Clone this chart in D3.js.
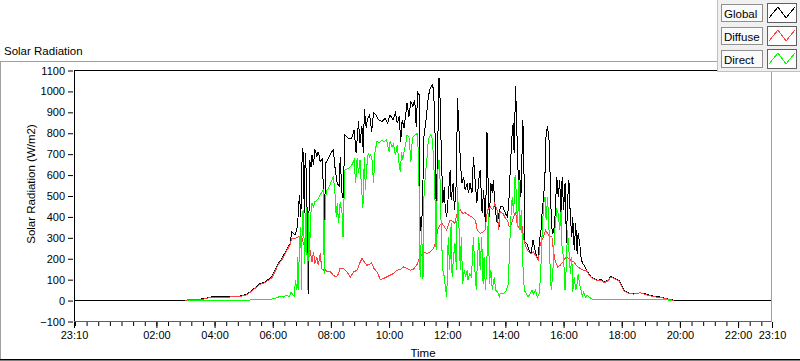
<!DOCTYPE html>
<html>
<head>
<meta charset="utf-8">
<script src="https://cdn.jsdelivr.net/npm/d3@7"></script>
<style>
  html, body { margin: 0; padding: 0; background: #fff; }
  svg { display: block; font-family: "Liberation Sans", Arial, sans-serif; }
</style>
</head>
<body>
<div id="chart"></div>
<script>
// axis values
const yTicks = [-100, 0, 100, 200, 300, 400, 500, 600, 700, 800, 900, 1000, 1100];
const xTickLabels = ["23:10", "02:00", "04:00", "06:00", "08:00", "10:00", "12:00",
  "14:00", "16:00", "18:00", "20:00", "22:00", "23:10"];
const seriesNames = ["Global", "Diffuse", "Direct"];

// measurements, [time, W/m2]; the night before 03:00 and after 19:47 is 0
const globalData = [
  ["03:00",0],["03:05",5],["03:37",8],["03:51",17],["04:49",20],["05:07",30],["05:17",49],["05:34",81],
  ["05:44",89],["05:58",113],["06:05",145],["06:12",180],["06:19",201],["06:28",241],["06:36",273],
  ["06:39",329],["06:46",313],["06:51",353],["06:55",505],["06:58",400],["07:01",728],["07:03",705],
  ["07:05",418],["07:07",704],["07:10",576],["07:13",30],["07:16",672],["07:19",640],["07:21",696],
  ["07:24",648],["07:27",723],["07:31",690],["07:34",712],["07:38",664],["07:43",680],["07:46",273],
  ["07:49",656],["07:55",680],["08:02",712],["08:05",720],["08:09",624],["08:13",560],["08:18",544],
  ["08:19",688],["08:23",513],["08:25",490],["08:29",792],["08:36",776],["08:43",776],["08:48",816],
  ["08:52",704],["08:57",856],["09:00",752],["09:04",832],["09:07",704],["09:09",915],["09:13",824],
  ["09:15",864],["09:20",888],["09:24",808],["09:28",899],["09:33",888],["09:38",864],["09:45",856],
  ["09:52",872],["09:57",848],["10:02",888],["10:08",864],["10:13",896],["10:17",848],["10:21",880],
  ["10:24",760],["10:27",864],["10:31",824],["10:37",944],["10:41",880],["10:45",952],["10:49",928],
  ["10:53",960],["10:56",832],["10:59",995],["11:02",984],["11:04",353],["11:07",321],["11:10",576],
  ["11:12",784],["11:17",880],["11:21",976],["11:25",1016],["11:29",1032],["11:32",1008],["11:35",784],
  ["11:37",465],["11:40",688],["11:43",1064],["11:45",976],["11:48",688],["11:51",465],["11:54",544],
  ["11:56",433],["11:59",400],["12:03",528],["12:06",624],["12:08",481],["12:12",560],["12:15",433],
  ["12:19",576],["12:21",968],["12:24",829],["12:27",672],["12:30",560],["12:34",592],["12:37",528],
  ["12:41",560],["12:44",513],["12:47",560],["12:51",513],["12:54",688],["12:58",560],["13:01",465],
  ["13:05",576],["13:08",624],["13:12",417],["13:15",528],["13:19",353],["13:22",808],["13:25",497],
  ["13:27",400],["13:30",560],["13:33",513],["13:35",576],["13:39",433],["13:43",369],["13:46",417],
  ["13:48",353],["13:49",448],["13:55",448],["14:00",417],["14:04",400],["14:07",465],["14:10",624],
  ["14:13",768],["14:16",848],["14:18",704],["14:21",1024],["14:24",784],["14:27",544],["14:29",624],
  ["14:32",497],["14:35",768],["14:36",864],["14:38",688],["14:40",281],["14:44",273],["14:49",241],
  ["14:53",225],["14:57",289],["15:01",241],["15:05",209],["15:08",193],["15:10",289],["15:13",321],
  ["15:16",433],["15:19",497],["15:22",624],["15:24",800],["15:27",832],["15:30",768],["15:33",544],
  ["15:35",353],["15:38",321],["15:41",353],["15:43",433],["15:46",592],["15:49",497],["15:52",576],
  ["15:55",385],["15:57",592],["16:00",433],["16:03",560],["16:06",273],["16:08",465],["16:11",576],
  ["16:14",400],["16:17",305],["16:19",400],["16:22",241],["16:25",369],["16:28",225],["16:30",321],
  ["16:33",281],["16:36",209],["16:39",177],["16:43",169],["16:47",145],["16:52",129],["16:57",113],
  ["17:03",105],["17:10",97],["17:17",101],["17:24",89],["17:31",97],["17:38",116],["17:47",105],
  ["17:54",97],["17:58",81],["18:05",49],["18:14",37],["18:24",33],["18:38",37],["18:52",30],
  ["19:06",20],["19:20",17],["19:33",9],["19:44",4],["19:47",0]
];

const diffuseData = [
  ["03:00",0],["03:05",4],["03:37",7],["03:51",15],["04:49",18],["05:07",28],["05:17",46],["05:34",78],
  ["05:44",86],["05:58",108],["06:05",140],["06:12",175],["06:19",196],["06:28",235],["06:36",268],
  ["06:39",297],["06:46",297],["06:53",305],["07:00",305],["07:03",273],["07:07",257],["07:10",233],
  ["07:14",209],["07:17",241],["07:21",185],["07:24",233],["07:27",177],["07:31",209],["07:34",169],
  ["07:38",225],["07:41",153],["07:45",145],["07:48",149],["07:52",137],["07:58",141],["08:05",121],
  ["08:11",113],["08:16",129],["08:19",155],["08:26",153],["08:33",137],["08:40",113],["08:47",137],
  ["08:54",145],["08:59",177],["09:04",201],["09:09",185],["09:14",169],["09:20",173],["09:24",181],
  ["09:29",153],["09:35",137],["09:42",101],["09:48",105],["09:55",113],["10:02",121],["10:09",129],
  ["10:16",145],["10:23",149],["10:30",161],["10:37",153],["10:44",145],["10:50",149],["10:57",169],
  ["11:04",209],["11:11",233],["11:18",225],["11:25",233],["11:32",249],["11:37",289],["11:40",337],
  ["11:45",361],["11:49",369],["11:54",353],["11:59",337],["12:06",385],["12:12",377],["12:16",369],
  ["12:21",425],["12:27",433],["12:32",417],["12:37",420],["12:44",409],["12:51",400],["12:58",385],
  ["13:02",337],["13:08",321],["13:14",329],["13:18",337],["13:23",433],["13:29",448],["13:34",433],
  ["13:38",465],["13:43",433],["13:46",337],["13:49",425],["13:55",417],["14:00",393],["14:04",385],
  ["14:08",353],["14:13",369],["14:17",401],["14:21",425],["14:24",369],["14:27",353],["14:30",337],
  ["14:35",353],["14:37",305],["14:42",257],["14:48",233],["14:53",225],["14:58",233],["15:04",209],
  ["15:08",193],["15:12",273],["15:17",297],["15:23",337],["15:27",321],["15:31",305],["15:36",305],
  ["15:39",241],["15:43",185],["15:48",161],["15:53",169],["15:59",185],["16:03",201],["16:07",209],
  ["16:11",201],["16:15",193],["16:21",185],["16:28",165],["16:34",153],["16:41",145],["16:47",145],
  ["16:52",125],["16:57",110],["17:03",102],["17:10",94],["17:17",98],["17:24",86],["17:31",94],
  ["17:38",113],["17:47",102],["17:54",94],["17:58",78],["18:05",46],["18:14",34],["18:24",31],
  ["18:38",37],["18:52",27],["19:06",18],["19:20",15],["19:33",8],["19:44",3],["19:47",0]
];

const directData = [
  ["03:03",0],["05:24",3],["05:27",5],["05:58",7],["06:08",13],["06:15",20],["06:22",17],["06:28",25],
  ["06:34",20],["06:38",40],["06:41",30],["06:44",20],["06:47",97],["06:50",49],["06:51",209],
  ["06:53",49],["06:55",273],["06:58",353],["06:59",49],["07:01",417],["07:03",433],["07:06",177],
  ["07:09",448],["07:12",49],["07:14",417],["07:16",209],["07:18",401],["07:21",465],["07:24",448],
  ["07:27",473],["07:32",481],["07:38",505],["07:42",521],["07:45",529],["07:46",129],["07:47",305],
  ["07:49",497],["07:52",529],["07:55",537],["07:58",553],["08:02",576],["08:05",595],["08:08",529],
  ["08:11",401],["08:13",465],["08:16",369],["08:19",470],["08:23",417],["08:25",305],["08:27",481],
  ["08:29",624],["08:36",632],["08:43",648],["08:48",672],["08:51",560],["08:54",680],["08:57",608],
  ["09:00",672],["09:03",544],["09:06",441],["09:09",688],["09:11",529],["09:14",640],["09:17",704],
  ["09:20",688],["09:22",696],["09:25",672],["09:28",560],["09:31",712],["09:35",760],["09:40",755],
  ["09:45",765],["09:50",760],["09:55",768],["10:00",712],["10:02",760],["10:06",736],["10:09",749],
  ["10:13",696],["10:17",744],["10:20",664],["10:23",616],["10:26",712],["10:28",672],["10:31",712],
  ["10:34",744],["10:37",792],["10:41",784],["10:45",664],["10:48",776],["10:50",784],["10:54",792],
  ["10:59",800],["11:02",529],["11:04",113],["11:07",353],["11:10",105],["11:12",497],["11:15",608],
  ["11:18",672],["11:21",768],["11:23",784],["11:26",792],["11:29",776],["11:32",672],["11:35",465],
  ["11:37",241],["11:40",608],["11:43",672],["11:45",592],["11:48",305],["11:51",145],["11:54",113],
  ["11:56",65],["11:59",17],["12:02",305],["12:05",145],["12:08",369],["12:10",113],["12:13",209],
  ["12:16",273],["12:19",145],["12:21",544],["12:24",369],["12:27",145],["12:29",305],["12:32",81],
  ["12:35",145],["12:38",113],["12:41",145],["12:43",97],["12:46",129],["12:50",113],["12:54",305],
  ["12:57",145],["13:00",49],["13:02",177],["13:05",305],["13:08",145],["13:11",305],["13:14",81],
  ["13:16",209],["13:19",49],["13:22",209],["13:25",417],["13:27",81],["13:30",145],["13:33",49],
  ["13:37",113],["13:40",49],["13:44",41],["13:48",17],["13:49",33],["13:56",33],["14:02",49],
  ["14:06",81],["14:08",209],["14:11",385],["14:14",497],["14:17",417],["14:20",600],["14:22",529],
  ["14:25",353],["14:28",576],["14:30",337],["14:33",433],["14:36",177],["14:39",49],["14:43",33],
  ["14:47",17],["14:51",33],["14:55",49],["14:58",33],["15:02",49],["15:06",17],["15:10",33],
  ["15:13",145],["15:16",337],["15:19",465],["15:22",497],["15:24",385],["15:27",497],["15:30",337],
  ["15:33",97],["15:35",49],["15:38",145],["15:41",305],["15:43",369],["15:46",433],["15:49",417],
  ["15:52",337],["15:55",433],["15:57",241],["16:00",209],["16:03",49],["16:06",177],["16:08",337],
  ["16:11",241],["16:14",129],["16:17",209],["16:19",41],["16:22",113],["16:25",49],["16:28",81],
  ["16:30",129],["16:33",81],["16:36",49],["16:39",17],["16:41",41],["16:45",17],["16:49",25],
  ["16:55",13],["17:02",4],["17:16",4],["17:36",7],["17:57",4],["18:24",4],["18:59",4],["19:33",4],
  ["19:44",0]
];

const W = 800, H = 361;
const svg = d3.select("#chart").append("svg").attr("width", W).attr("height", H);

const start = new Date(2000, 0, 1, 23, 10), end = new Date(2000, 0, 2, 23, 10);
const parse = s => { const [h, m] = s.split(":").map(Number); return new Date(2000, 0, 2, h, m); };

const plot = { left: 74, top: 70, right: 772, bottom: 322 };
const x = d3.scaleTime().domain([start, end]).range([plot.left, plot.right]);
const y = d3.scaleLinear().domain([-100, 1100]).range([plot.bottom - 0.5, plot.top + 0.5]);

// outer panel
svg.append("text").attr("x", 4).attr("y", 55).attr("font-size", 11.5).attr("fill", "#000").text("Solar Radiation");
svg.append("path").attr("d", "M0,61.5H717M0.5,61.5V360").attr("stroke", "#a0a0a0").attr("fill", "none");
svg.append("path").attr("d", "M0,359.5H800").attr("stroke", "#000").attr("fill", "none");
svg.append("path").attr("d", "M0,360.5H800").attr("stroke", "#808080").attr("fill", "none");

// lines
svg.append("clipPath").attr("id", "clip").append("rect")
  .attr("x", plot.left + 1).attr("y", plot.top + 1)
  .attr("width", plot.right - plot.left - 1).attr("height", plot.bottom - plot.top - 1);

const line = d3.line().x(d => x(d[0])).y(d => y(d[1]));
const toPts = arr => arr.map(d => [parse(d[0]), d[1]]);
const series = [
  { name: seriesNames[0], color: "#000000", pts: [[start, 0], ...toPts(globalData), [end, 0]] },
  { name: seriesNames[1], color: "#ff4040", pts: toPts(diffuseData) },
  { name: seriesNames[2], color: "#00ff00", pts: toPts(directData) }
];
const g = svg.append("g").attr("clip-path", "url(#clip)");
series.forEach(s => {
  g.append("path").datum(s.pts).attr("d", line)
    .attr("fill", "none").attr("stroke", s.color).attr("stroke-width", 1)
    .attr("shape-rendering", "crispEdges");
});

// plot frame
svg.append("path").attr("d", `M${plot.left},${plot.top + 0.5}H${plot.right}M${plot.left + 0.5},${plot.top}V${plot.bottom}`)
  .attr("stroke", "#000").attr("fill", "none");
svg.append("path").attr("d", `M${plot.left},${plot.bottom - 0.5}H${plot.right}`).attr("stroke", "#606060").attr("fill", "none");
svg.append("path").attr("d", `M${plot.right - 0.5},${plot.top}V${plot.bottom}`).attr("stroke", "#a0a0a0").attr("fill", "none");

// y axis
const yAxis = svg.append("g").attr("transform", `translate(${plot.left - 1},0)`)
  .call(d3.axisLeft(y).tickValues(yTicks).tickSize(5).tickPadding(3).tickFormat(d3.format("d")));
yAxis.select(".domain").remove();
yAxis.selectAll("text").attr("font-size", 11).attr("fill", "#000").attr("font-family", "Liberation Sans, Arial, sans-serif");

// x axis: major ticks with labels, minor every 24 min
const majorTicks = xTickLabels.map((s, i) => i === 0 ? start : i === xTickLabels.length - 1 ? end : parse(s));
const t0200 = parse("02:00");
const minorTicks = d3.range(-7, 53).map(k => new Date(+t0200 + k * 24 * 60000)).filter(d => d > start && d < end);

const xMinor = svg.append("g").attr("transform", `translate(0,${plot.bottom})`)
  .call(d3.axisBottom(x).tickValues(minorTicks).tickSize(4).tickFormat(""));
xMinor.select(".domain").remove();
const xAxis = svg.append("g").attr("transform", `translate(0,${plot.bottom})`)
  .call(d3.axisBottom(x).tickValues(majorTicks).tickSize(6).tickPadding(3)
    .tickFormat((d, i) => xTickLabels[i]));
xAxis.select(".domain").remove();
xAxis.selectAll("text").attr("font-size", 11).attr("fill", "#000").attr("font-family", "Liberation Sans, Arial, sans-serif");

svg.append("text").attr("x", (plot.left + plot.right) / 2).attr("y", 357).attr("text-anchor", "middle")
  .attr("font-size", 11.5).attr("fill", "#000").text("Time");
svg.append("text").attr("transform", "translate(35,184) rotate(-90)").attr("text-anchor", "middle")
  .attr("font-size", 11.5).attr("fill", "#000").text("Solar Radiation (W/m2)");

// legend
const leg = svg.append("g");
leg.append("rect").attr("x", 717.5).attr("y", -1).attr("width", 84).attr("height", 72.5)
  .attr("fill", "#f0f0f0").attr("stroke", "#c0c0c0");
const zig = d3.line();
series.forEach((s, i) => {
  const ry = 4 + i * 23;
  leg.append("rect").attr("x", 721.5).attr("y", ry + 0.5).attr("width", 41).attr("height", 17)
    .attr("fill", "#fafafa").attr("stroke", "#909090");
  leg.append("text").attr("x", 724).attr("y", ry + 13.5).attr("font-size", 11.5).attr("fill", "#000").text(s.name);
  leg.append("rect").attr("x", 767.5).attr("y", ry - 0.5).attr("width", 29).attr("height", 19)
    .attr("fill", "#fff").attr("stroke", "#606060");
  leg.append("path").attr("d", zig([[769, ry + 14], [778, ry + 3], [786, ry + 14], [795, ry + 3]]))
    .attr("fill", "none").attr("stroke", s.color).attr("shape-rendering", "crispEdges");
});
</script>
</body>
</html>
